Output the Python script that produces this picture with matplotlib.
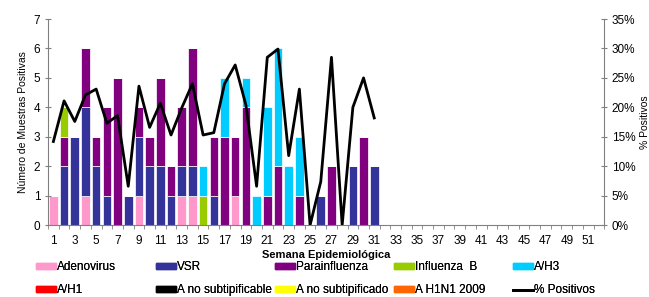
import matplotlib
matplotlib.use("Agg")
import matplotlib.pyplot as plt
from matplotlib.patches import Patch
from matplotlib.lines import Line2D
from matplotlib.ticker import FuncFormatter
import numpy as np

plt.rcParams['font.family'] = ['Liberation Sans', 'DejaVu Sans']

weeks = np.arange(1, 32)
adenovirus = [1, 0, 0, 1, 0, 0, 0, 0, 1, 0, 0, 0, 1, 1, 0, 0, 0, 1, 0, 0, 0, 0, 0, 0, 0, 0, 0, 0, 0, 0, 0]
vsr = [0, 2, 3, 3, 2, 1, 0, 1, 2, 2, 2, 1, 1, 1, 0, 1, 0, 0, 0, 0, 0, 0, 0, 0, 0, 1, 0, 0, 2, 0, 2]
parainfluenza = [0, 1, 0, 2, 1, 3, 5, 0, 1, 1, 3, 1, 2, 4, 0, 2, 3, 2, 4, 0, 1, 2, 0, 1, 0, 0, 2, 0, 0, 3, 0]
influenza_b = [0, 1, 0, 0, 0, 0, 0, 0, 0, 0, 0, 0, 0, 0, 1, 0, 0, 0, 0, 0, 0, 0, 0, 0, 0, 0, 0, 0, 0, 0, 0]
a_h3 = [0, 0, 0, 0, 0, 0, 0, 0, 0, 0, 0, 0, 0, 0, 1, 0, 2, 0, 1, 1, 3, 4, 2, 2, 0, 0, 0, 0, 0, 0, 0]
pct_pos = [14.2, 21.1, 17.6, 22.1, 23.1, 17.3, 18.6, 6.6, 23.6, 16.6, 20.7, 15.3, 19.9, 24.0,
           15.3, 15.7, 24.0, 27.2, 20.4, 6.6, 28.5, 29.9, 11.8, 23.1, 0.0, 7.4, 28.5, 0.0,
           20.0, 25.0, 18.2]

series = [
    ("Adenovirus", adenovirus, "#FF99CC"),
    ("VSR", vsr, "#333399"),
    ("Parainfluenza", parainfluenza, "#800080"),
    ("Influenza  B", influenza_b, "#99CC00"),
    ("A/H3", a_h3, "#00CCFF"),
]
extra = [("A/H1", "#FF0000"), ("A no subtipificable", "#000000"),
         ("A no subtipificado", "#FFFF00"), ("A H1N1 2009", "#FF6600")]

fig = plt.figure(figsize=(6.49, 2.97), dpi=100)
ax = fig.add_axes([0.074, 0.242, 0.857, 0.694])

bottom = np.zeros(len(weeks))
for name, vals, col in series:
    ax.bar(weeks, vals, 0.8, bottom=bottom, color=col, edgecolor='white', linewidth=0.5)
    bottom += np.array(vals)

ax.set_xlim(0.5, 52.5)
ax.set_ylim(0, 7)
ax.set_xticks(np.arange(1, 52, 2))
ax.set_xticks(np.arange(0.5, 53, 1), minor=True)
ax.tick_params(axis='x', which='major', length=0, labelsize=8.5, pad=7)
ax.tick_params(axis='x', which='minor', length=3, direction='out', color='#808080')
ax.tick_params(axis='y', length=4, direction='inout', labelsize=8.5, color='#808080')
ax.set_ylabel("Número de Muestras Positivas", fontsize=7.5)
ax.set_xlabel("Semana Epidemiológica", fontsize=8, fontweight='bold', labelpad=2)
for s in ['top', 'right']:
    ax.spines[s].set_visible(False)
for s in ['left', 'bottom']:
    ax.spines[s].set_color('#808080')

ax2 = ax.twinx()
ax2.plot(weeks, pct_pos, color='black', linewidth=2)
ax2.set_ylim(0, 35)
ax2.set_yticks(np.arange(0, 36, 5))
ax2.yaxis.set_major_formatter(FuncFormatter(lambda v, p: f"{int(v)}%"))
ax2.tick_params(axis='y', length=4, direction='inout', labelsize=8.5, color='#808080')
ax2.set_ylabel("% Positivos", fontsize=7.5, labelpad=0)
ax2.yaxis.set_label_coords(1.065, 0.5)
for s in ['top', 'left', 'bottom']:
    ax2.spines[s].set_visible(False)
ax2.spines['right'].set_color('#808080')

# legend: five columns of two rows each, placed one by one
row1 = [Patch(color=c, label=n) for n, v, c in series]
row2 = [Patch(color=c, label=n) for n, c in extra]
row2.append(Line2D([], [], color='black', linewidth=2, label="% Positivos"))
col_x = [36, 156, 275, 394, 513]
for i in range(5):
    leg = fig.legend(handles=[row1[i], row2[i]], loc='upper left',
                     bbox_to_anchor=(col_x[i] / 649, 1 - 261 / 297),
                     frameon=False, fontsize=8.5, handlelength=1.7, handleheight=0.45,
                     handletextpad=0.05, labelspacing=0.95, borderpad=0, borderaxespad=0)
    fig.add_artist(leg)

fig.savefig("out.png", dpi=100)
